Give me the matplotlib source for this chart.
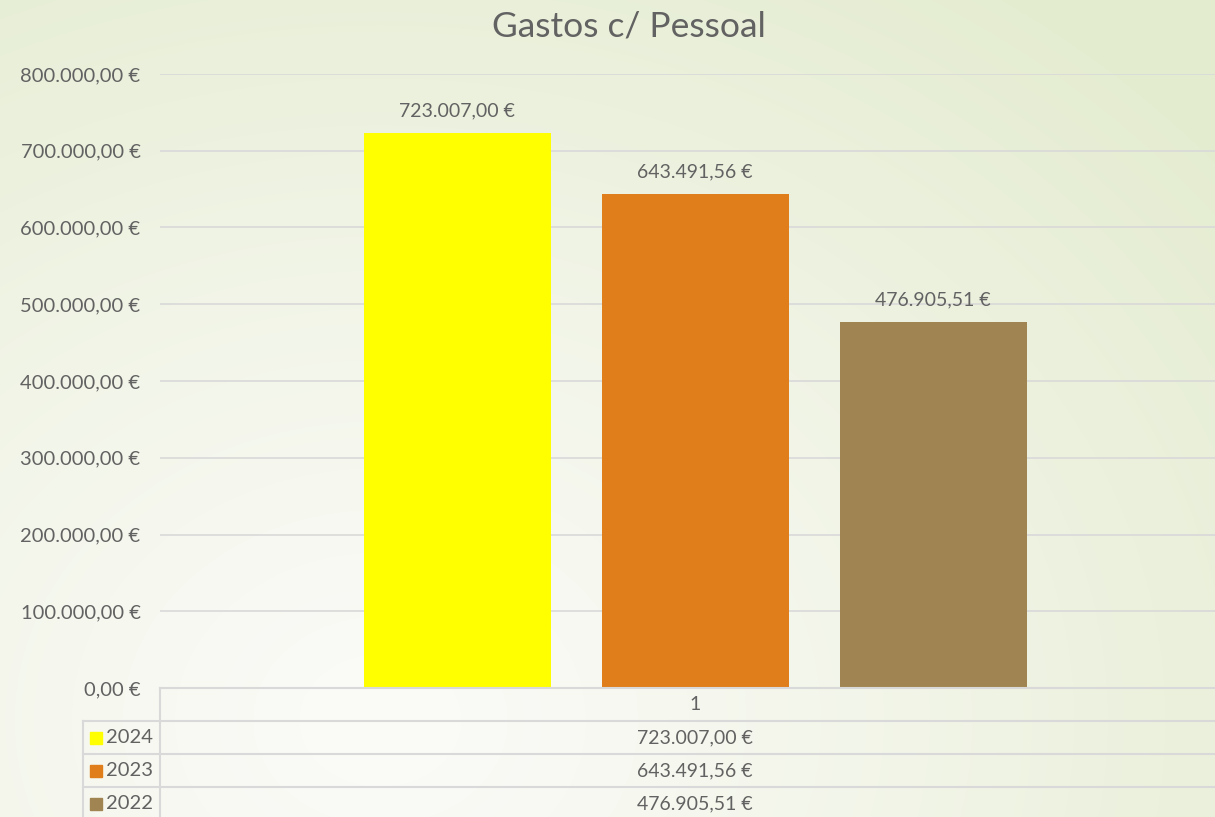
import numpy as np
import matplotlib.pyplot as plt
from matplotlib.lines import Line2D
from matplotlib.patches import Rectangle
from matplotlib.ticker import FuncFormatter

plt.rcParams['font.family'] = ['Lato', 'DejaVu Sans']

title = "Gastos c/ Pessoal"
series = ["2024", "2023", "2022"]
values = [723007.00, 643491.56, 476905.51]
colors = ["#ffff00", "#df7e1a", "#a08452"]
category = "1"
yticks = np.arange(0, 800001, 100000)

txt_color = "#626262"
grid_color = "#d9d9d9"


def euro(v):
    s = "{:,.2f}".format(v)
    s = s.replace(",", "X").replace(".", ",").replace("X", ".")
    return s + " €"


W, H = 1215, 817
fig = plt.figure(figsize=(W / 100, H / 100), dpi=100)

# fundo com gradiente radial
bg = fig.add_axes([0, 0, 1, 1], zorder=0)
yy, xx = np.mgrid[0:H, 0:W]
d = np.sqrt(((xx - 380) / 1100.0) ** 2 + ((yy - 720) / 900.0) ** 2)
d = np.clip(d, 0, 1) ** 1.2
c0 = np.array([251, 251, 248]) / 255.0
c1 = np.array([228, 236, 208]) / 255.0
img = c0[None, None, :] * (1 - d[..., None]) + c1[None, None, :] * d[..., None]
bg.imshow(img, extent=[0, W, H, 0], aspect='auto')
bg.set_xlim(0, W)
bg.set_ylim(H, 0)
bg.axis('off')

# eixo principal
left, right, top, bottom = 160, 1230, 74, 688
ax = fig.add_axes([left / W, 1 - bottom / H, (right - left) / W, (bottom - top) / H], zorder=2)
ax.set_facecolor('none')
x = np.arange(len(values)) - 1
ax.bar(x, values, width=187 / 238, color=colors, zorder=3)
ax.set_xlim(-535 / 238, 535 / 238)
ax.set_ylim(0, 800000)
ax.set_yticks(yticks)
ax.yaxis.set_major_formatter(FuncFormatter(lambda v, p: euro(v)))
ax.tick_params(axis='y', length=0, pad=14, labelsize=14.5, labelcolor=txt_color)
ax.set_xticks([])
ax.grid(axis='y', color=grid_color, lw=1.2)
ax.set_axisbelow(True)
for s in ax.spines.values():
    s.set_visible(False)
for xi, v in zip(x, values):
    ax.annotate(euro(v), (xi, v), xytext=(0, 10), textcoords='offset points',
                ha='center', va='bottom', fontsize=14, color=txt_color)

fig.text(629 / W, 1 - 27 / H, title, ha='center', va='center', fontsize=25.5, color=txt_color)

# tabela de dados
tb = fig.add_axes([0, 0, 1, 1], zorder=3)
tb.set_xlim(0, W)
tb.set_ylim(H, 0)
tb.axis('off')
row_h = 33
y0 = 688
lw = 1.5
tb.add_line(Line2D([left, W], [y0, y0], color=grid_color, lw=lw))
tb.add_line(Line2D([left, left], [y0, H], color=grid_color, lw=lw))
tb.add_line(Line2D([83, 83], [y0 + row_h, H], color=grid_color, lw=lw))
tb.text((left + right) / 2, y0 + row_h / 2, category, ha='center', va='center',
        fontsize=14, color=txt_color)
for i, (name, v, c) in enumerate(zip(series, values, colors)):
    yr = y0 + row_h * (i + 1)
    tb.add_line(Line2D([83, W], [yr, yr], color=grid_color, lw=lw))
    tb.add_patch(Rectangle((90, yr + row_h / 2 - 6), 12, 12, color=c))
    tb.text(106, yr + row_h / 2, name, ha='left', va='center', fontsize=14.5, color=txt_color)
    tb.text((left + right) / 2, yr + row_h / 2, euro(v), ha='center', va='center',
            fontsize=14, color=txt_color)

fig.savefig("out.png", dpi=100)
